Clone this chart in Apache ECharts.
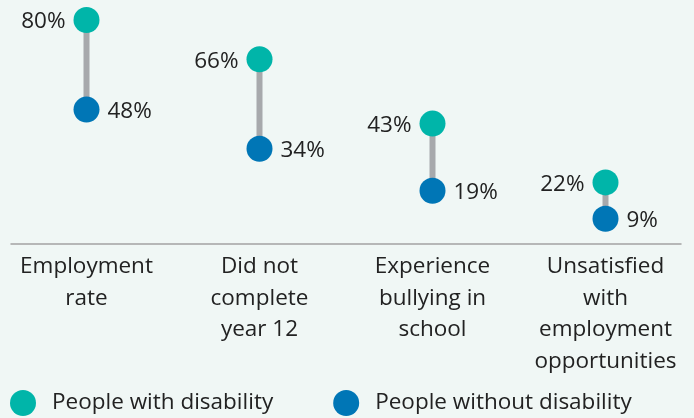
<!DOCTYPE html>
<html>
<head>
<meta charset="utf-8">
<script src="https://cdn.jsdelivr.net/npm/echarts@6/dist/echarts.min.js"></script>
<style>
  html, body { margin: 0; padding: 0; background: #f0f7f5; }
  #chart { width: 694px; height: 418px; }
</style>
</head>
<body>
<div id="chart"></div>
<script>
const categories = [
  'Employment\nrate',
  'Did not\ncomplete\nyear 12',
  'Experience\nbullying in\nschool',
  'Unsatisfied\nwith\nemployment\nopportunities'
];
const withDisability = [80, 66, 43, 22];
const withoutDisability = [48, 34, 19, 9];
const seriesNames = ['People with disability', 'People without disability'];

const TEAL = '#00b5a9';
const BLUE = '#0076b6';
const INK = '#222222';
const FONT = '"Open Sans", "Noto Sans", sans-serif';
const FS = 22.5;

const chart = echarts.init(document.getElementById('chart'), null, { renderer: 'canvas' });

// pairs used by the connector series: [category index, high, low]
const pairs = categories.map((c, i) => [i, withDisability[i], withoutDisability[i]]);

chart.setOption({
  backgroundColor: '#f0f7f5',
  animation: false,
  textStyle: { fontFamily: FONT },
  grid: [
    { left: 0, right: 2, top: 20, bottom: 174 },
    { left: 11, right: 13, top: 20, bottom: 174 }
  ],
  xAxis: [
    {
      type: 'category', gridIndex: 0, data: categories,
      axisLine: { show: false }, axisTick: { show: false },
      axisLabel: {
        color: INK, fontSize: FS, lineHeight: 31.5, margin: 7,
        fontFamily: FONT, interval: 0
      }
    },
    {
      type: 'category', gridIndex: 1, data: categories,
      axisLine: { show: true, lineStyle: { color: '#a3a3a3', width: 1.5 } },
      axisTick: { show: false }, axisLabel: { show: false }
    }
  ],
  yAxis: [
    { type: 'value', gridIndex: 0, min: 0, max: 80, show: false },
    { type: 'value', gridIndex: 1, min: 0, max: 80, show: false }
  ],
  legend: {
    left: 5, top: 385,
    itemWidth: 26, itemHeight: 26, itemGap: 60,
    icon: 'circle',
    data: seriesNames,
    itemStyle: { opacity: 1 },
    textStyle: { color: INK, fontSize: FS, fontFamily: FONT, padding: [4, 0, 0, 11] }
  },
  series: [
    {
      type: 'custom',
      xAxisIndex: 0, yAxisIndex: 0,
      data: pairs,
      silent: true,
      z: 1,
      renderItem: function (params, api) {
        const top = api.coord([api.value(0), api.value(1)]);
        const bot = api.coord([api.value(0), api.value(2)]);
        return {
          type: 'line',
          shape: { x1: top[0], y1: top[1], x2: bot[0], y2: bot[1] },
          style: { stroke: '#a7a9ac', lineWidth: 6 }
        };
      }
    },
    {
      name: seriesNames[0],
      type: 'scatter',
      xAxisIndex: 0, yAxisIndex: 0,
      data: withDisability,
      symbol: 'circle', symbolSize: 26,
      itemStyle: { color: TEAL, opacity: 1 },
      z: 3,
      label: {
        show: true, position: 'left', distance: 8, offset: [0, 2],
        formatter: p => p.value + '%',
        color: INK, fontSize: FS, fontFamily: FONT, opacity: 1
      }
    },
    {
      name: seriesNames[1],
      type: 'scatter',
      xAxisIndex: 0, yAxisIndex: 0,
      data: withoutDisability,
      symbol: 'circle', symbolSize: 26,
      itemStyle: { color: BLUE, opacity: 1 },
      z: 3,
      label: {
        show: true, position: 'right', distance: 8, offset: [0, 2],
        formatter: p => p.value + '%',
        color: INK, fontSize: FS, fontFamily: FONT, opacity: 1
      }
    }
  ]
});
</script>
</body>
</html>
